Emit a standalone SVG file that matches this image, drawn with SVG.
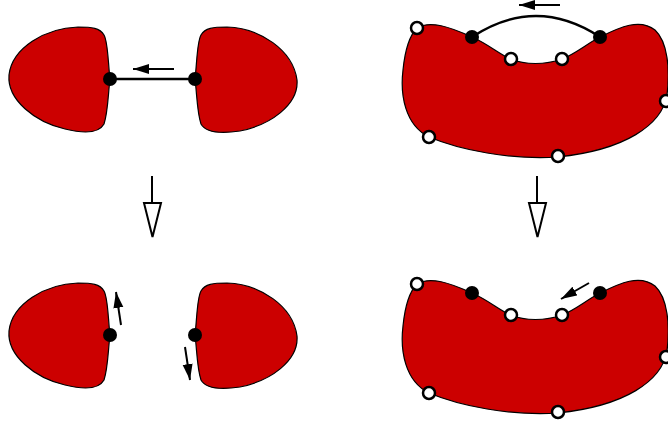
<svg xmlns="http://www.w3.org/2000/svg" width="668" height="423" viewBox="0 0 668 423">
<style>
.blob{fill:#cc0000;stroke:#000;stroke-width:1.2}
.fd{fill:#000}
.od{fill:#fff;stroke:#000;stroke-width:2.5}
.ln{fill:none;stroke:#000;stroke-width:2.5}
.ar{fill:none;stroke:#000;stroke-width:2}
.da{fill:#fff;stroke:#000;stroke-width:2}
</style>
<defs>
<marker id="ah" markerUnits="userSpaceOnUse" markerWidth="18" markerHeight="12" refX="16" refY="5" orient="auto">
<path d="M0,0 L16,5 L0,10 Z" fill="#000"/>
</marker>
<path id="lb" d="M110,79 C108,62 108,42 104,35 C100,28 92,27 78,27 C45,28 12,48 9,75 C7,100 35,122 65,129 C85,134 99,133 104,124 C108,112 108,95 110,79 Z"/>
<path id="rb" d="M195,79 C197,62 197,42 201,35 C205,28 213,27 227,27 C260,28 293,50 297,80 C299,105 270,125 240,131 C220,134 206,133 201,124 C197,112 197,95 195,79 Z"/>
<path id="kb" d="M417,28 C430,20 450,27 472,37 C490,45 500,55 511,59 C525,65 545,65 562,59 C575,54 585,45 600,37 C620,27 640,18 655,30 C668,42 670,70 667,95 C662,125 625,150 558,157 C510,160 460,150 429,137 C405,125 400,95 403,70 C405,50 410,35 417,28 Z"/>
</defs>
<g id="tl-left-body"><use href="#lb" class="blob"/></g>
<g id="tl-right-body"><use href="#rb" class="blob"/></g>
<g id="bl-left-body"><use href="#lb" class="blob" transform="translate(0,256)"/></g>
<g id="bl-right-body"><use href="#rb" class="blob" transform="translate(0,256)"/></g>
<g id="tr-body"><use href="#kb" class="blob"/></g>
<g id="br-body"><use href="#kb" class="blob" transform="translate(0,256)"/></g>
<g id="connectors">
<line class="ln" x1="110" y1="79" x2="195" y2="79"/>
<path class="ln" d="M472,37 Q536,-5 600,37"/>
<line class="ar" x1="174" y1="69" x2="133" y2="69" marker-end="url(#ah)"/>
<line class="ar" x1="560" y1="5" x2="519" y2="5" marker-end="url(#ah)"/>
<line class="ar" x1="121" y1="325" x2="116" y2="292" marker-end="url(#ah)"/>
<line class="ar" x1="185" y1="347" x2="190" y2="380" marker-end="url(#ah)"/>
<line class="ar" x1="589" y1="283" x2="561" y2="299" marker-end="url(#ah)"/>
<line class="ar" x1="152" y1="176" x2="152" y2="203"/>
<polygon class="da" points="144,203 161,203 152.5,237"/>
<line class="ar" x1="537" y1="176" x2="537" y2="203"/>
<polygon class="da" points="529,203 546,203 537.5,237"/>
</g>
<g id="dots">
<circle class="fd" cx="110" cy="79" r="7"/>
<circle class="fd" cx="195" cy="79" r="7"/>
<circle class="fd" cx="110" cy="335" r="7"/>
<circle class="fd" cx="195" cy="335" r="7"/>
<circle class="od" cx="417" cy="28" r="6"/>
<circle class="fd" cx="472" cy="37" r="7"/>
<circle class="od" cx="511" cy="59" r="6"/>
<circle class="od" cx="562" cy="59" r="6"/>
<circle class="fd" cx="600" cy="37" r="7"/>
<circle class="od" cx="666" cy="101" r="6"/>
<circle class="od" cx="429" cy="137" r="6"/>
<circle class="od" cx="558" cy="156" r="6"/>
<circle class="od" cx="417" cy="284" r="6"/>
<circle class="fd" cx="472" cy="293" r="7"/>
<circle class="od" cx="511" cy="315" r="6"/>
<circle class="od" cx="562" cy="315" r="6"/>
<circle class="fd" cx="600" cy="293" r="7"/>
<circle class="od" cx="666" cy="357" r="6"/>
<circle class="od" cx="429" cy="393" r="6"/>
<circle class="od" cx="558" cy="412" r="6"/>
</g>
</svg>
